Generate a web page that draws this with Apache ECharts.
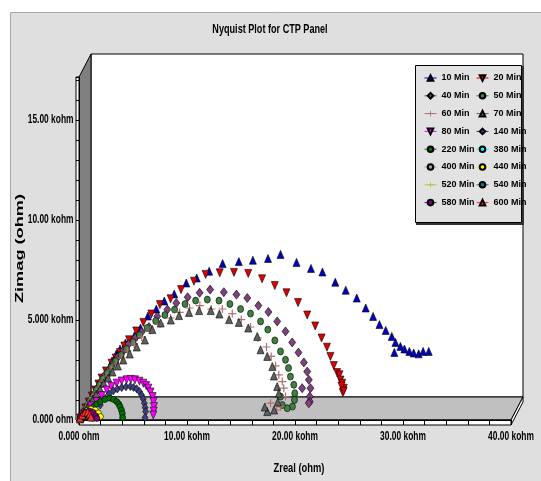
<!DOCTYPE html>
<html><head><meta charset="utf-8">
<script src="https://cdn.jsdelivr.net/npm/echarts@6/dist/echarts.min.js"></script>
<style>html,body{margin:0;padding:0;background:#fff;}#c{width:541px;height:481px;}</style>
</head><body><div id="c"></div>
<script>
// ---- texts & tick labels ----
const titleText = 'Nyquist Plot for CTP Panel';
const xAxisTitle = 'Zreal (ohm)';
const yAxisTitle = 'Zimag (ohm)';
const xTickValues = [0, 10, 20, 30, 40];
const xTickLabels = ['0.000 ohm', '10.00 kohm', '20.00 kohm', '30.00 kohm', '40.00 kohm'];
const yTickValues = [0, 5, 10, 15];
const yTickLabels = ['0.000 ohm', '5.000 kohm', '10.00 kohm', '15.00 kohm'];

// ---- data: [Zreal (kohm), Zimag (kohm)] ----
const min10 = [[0.15,0.1],[0.4,0.35],[0.7,0.65],[1.0,0.95],[1.3,1.25],[1.6,1.55],[1.9,1.85],[2.25,2.15],[2.63,2.45],[3.05,2.95],[3.45,3.3],[3.8,3.55],[4.3,3.85],[4.7,4.0],[5.12,4.2],[5.7,4.6],[6.38,5.2],[7.16,5.55],[7.9,5.95],[8.82,6.3],[9.93,6.85],[10.9,7.1],[12.05,7.44],[13.3,7.82],[14.8,7.92],[16.1,7.99],[17.5,8.08],[18.66,8.28],[20.14,7.88],[21.48,7.58],[22.54,7.4],[23.73,6.89],[24.7,6.49],[25.72,6.1],[26.55,5.6],[27.23,5.18],[27.82,4.77],[28.4,4.48],[28.96,4.18],[29.3,3.88],[29.76,3.68],[30.13,3.55],[30.59,3.43],[30.99,3.35],[31.45,3.31],[31.86,3.43],[32.38,3.43],[29.2,3.38]];
const min20 = [[0.1,0.1],[0.35,0.3],[0.6,0.6],[0.9,0.9],[1.2,1.2],[1.5,1.5],[1.8,1.8],[2.1,2.1],[2.5,2.45],[3.02,2.84],[3.4,3.1],[3.8,3.38],[4.2,3.7],[4.63,4.01],[5.3,4.45],[5.96,4.88],[6.7,5.3],[7.49,5.77],[8.48,6.06],[9.45,6.52],[10.64,6.94],[11.72,7.28],[13.03,7.36],[14.35,7.38],[15.67,7.33],[16.95,7.06],[18.13,6.72],[19.21,6.36],[20.28,5.87],[21.13,5.25],[21.87,4.7],[22.46,4.1],[22.96,3.64],[23.28,3.18],[23.59,2.72],[23.9,2.37],[24.12,2.26],[24.21,2.0],[24.37,1.84],[24.52,1.59],[24.43,1.37],[24.3,1.7],[24.5,1.45]];
const min40 = [[0.1,0.08],[0.3,0.28],[0.55,0.5],[0.8,0.75],[1.1,1.0],[1.4,1.3],[1.7,1.6],[2.0,1.9],[2.4,2.25],[2.8,2.55],[3.2,2.85],[3.6,3.15],[4.1,3.45],[4.6,3.8],[5.2,4.1],[5.8,4.4],[6.48,4.65],[7.25,5.18],[8.18,5.52],[9.01,5.85],[10.06,6.14],[11.17,6.36],[12.14,6.52],[13.41,6.39],[14.58,6.27],[15.58,6.1],[16.61,5.72],[17.54,5.4],[18.35,4.93],[19.12,4.43],[19.74,3.88],[20.32,3.37],[20.82,2.88],[21.13,2.42],[21.28,2.01],[21.43,1.59],[21.37,1.17],[21.37,0.92],[21.28,0.84],[20.66,1.59]];
const min50 = [[0.1,0.07],[0.3,0.25],[0.5,0.45],[0.75,0.7],[1.0,0.95],[1.3,1.2],[1.6,1.5],[1.9,1.75],[2.2,2.05],[2.6,2.35],[3.0,2.65],[3.4,2.95],[3.9,3.25],[4.4,3.55],[5.0,3.9],[5.6,4.25],[6.3,4.6],[7.1,4.95],[7.95,5.25],[8.85,5.52],[9.82,5.8],[10.8,5.97],[11.88,6.02],[12.96,5.97],[13.97,5.8],[14.96,5.55],[15.88,5.32],[16.81,4.93],[17.48,4.52],[18.13,3.98],[18.66,3.43],[19.12,3.01],[19.4,2.6],[19.58,2.17],[19.89,1.76],[19.98,1.34],[19.95,1.0],[19.76,0.67],[19.28,0.59],[18.82,0.75],[18.66,1.17]];
const min60 = [[0.1,0.06],[0.3,0.22],[0.5,0.42],[0.75,0.65],[1.0,0.88],[1.3,1.12],[1.6,1.4],[1.9,1.65],[2.25,1.95],[2.6,2.2],[3.0,2.5],[3.45,2.8],[3.95,3.1],[4.5,3.45],[5.1,3.8],[5.8,4.15],[6.6,4.5],[7.5,4.8],[8.48,5.1],[9.32,5.38],[10.24,5.6],[11.19,5.72],[12.25,5.55],[13.27,5.55],[14.19,5.32],[15.02,5.02],[15.88,4.65],[16.56,4.1],[17.36,3.65],[17.8,3.18],[18.2,2.71],[18.5,2.26],[18.82,1.92],[18.96,1.59],[19.12,1.17],[18.66,0.67],[17.73,0.84],[18.3,0.5]];
const min70 = [[0.1,0.05],[0.3,0.2],[0.5,0.4],[0.75,0.6],[1.0,0.82],[1.3,1.05],[1.6,1.3],[1.95,1.55],[2.3,1.85],[2.7,2.1],[3.1,2.4],[3.6,2.7],[4.1,3.0],[4.7,3.3],[5.35,3.65],[6.1,4.0],[6.79,4.52],[7.56,4.85],[8.5,5.0],[9.26,5.22],[10.19,5.38],[11.12,5.47],[12.2,5.47],[13.0,5.3],[13.9,5.02],[14.8,4.88],[15.67,4.6],[16.5,4.18],[16.81,3.51],[17.43,3.18],[17.9,2.67],[18.05,2.2],[18.35,1.67],[18.5,1.34],[18.4,0.9],[18.06,0.5],[17.43,0.42],[17.2,0.65]];
const min80 = [[0.3,0.15],[0.7,0.4],[1.1,0.7],[1.64,0.92],[2.1,1.22],[2.57,1.5],[3.0,1.68],[3.49,1.84],[3.95,1.95],[4.41,2.01],[4.8,2.03],[5.18,2.01],[5.6,1.94],[5.96,1.84],[6.22,1.72],[6.42,1.59],[6.62,1.4],[6.82,1.17],[6.9,0.92],[6.94,0.67],[6.92,0.45],[6.88,0.25]];
const min140 = [[0.3,0.12],[0.7,0.35],[1.2,0.55],[1.97,0.75],[2.43,1.09],[2.8,1.3],[3.18,1.46],[3.55,1.55],[3.95,1.62],[4.35,1.66],[4.75,1.67],[5.05,1.63],[5.34,1.56],[5.6,1.42],[5.8,1.25],[5.95,1.05],[6.05,0.84],[6.12,0.62],[6.17,0.42],[6.11,0.12]];
const min220 = [[0.3,0.1],[0.6,0.3],[1.0,0.5],[1.35,0.67],[1.65,0.8],[1.97,0.92],[2.4,1.03],[2.87,1.09],[3.2,1.03],[3.49,0.92],[3.68,0.8],[3.8,0.67],[3.93,0.5],[4.01,0.33],[4.04,0.12]];
const min380 = [[0.1,0.05],[0.25,0.18],[0.45,0.28],[0.7,0.33],[0.95,0.3],[1.15,0.2],[1.25,0.08]];
const min400 = [[0.1,0.08],[0.3,0.25],[0.55,0.4],[0.85,0.48],[1.15,0.45],[1.4,0.32],[1.55,0.15]];
const min440 = [[0.15,0.1],[0.4,0.3],[0.75,0.48],[1.1,0.55],[1.5,0.5],[1.8,0.35],[1.98,0.17]];
const min520 = [[0.1,0.06],[0.3,0.2],[0.55,0.32],[0.85,0.38],[1.1,0.33],[1.3,0.2],[1.4,0.08]];
const min540 = [[0.1,0.05],[0.25,0.15],[0.45,0.25],[0.65,0.28],[0.85,0.22],[1.0,0.1]];
const min580 = [[0.1,0.08],[0.3,0.22],[0.6,0.38],[0.95,0.45],[1.3,0.38],[1.55,0.2],[1.65,0.08]];
const min600 = [[0.1,0.1],[0.3,0.25],[0.55,0.38],[0.8,0.4],[1.0,0.3],[1.1,0.15]];

const leftNames  = ['10 Min','40 Min','60 Min','80 Min','220 Min','400 Min','520 Min','580 Min'];
const rightNames = ['20 Min','50 Min','70 Min','140 Min','380 Min','440 Min','540 Min','600 Min'];

// ---- styles ----
const PLUS = 'path://M3.4,0h1.2v3.4h3.4v1.2h-3.4v3.4h-1.2v-3.4h-3.4v-1.2h3.4z';
const styleTable = [
  {name:'10 Min', data:min10, color:'#0000c0', symbol:'triangle', size:[7,8], rot:0},
  {name:'20 Min', data:min20, color:'#e00000', symbol:'triangle', size:[7,8], rot:180},
  {name:'40 Min', data:min40, color:'#804080', symbol:'diamond', size:[7,9], rot:0},
  {name:'50 Min', data:min50, color:'#408040', symbol:'circle', size:[6,7], rot:0},
  {name:'60 Min', data:min60, color:'#b07070', symbol:PLUS, size:8, rot:0, plus:true},
  {name:'70 Min', data:min70, color:'#606060', symbol:'triangle', size:[7,8], rot:0},
  {name:'80 Min', data:min80, color:'#ff00ff', symbol:'triangle', size:[7,8], rot:180},
  {name:'140 Min', data:min140, color:'#404080', symbol:'diamond', size:[6,8], rot:0},
  {name:'220 Min', data:min220, color:'#007000', symbol:'circle', size:6, rot:0},
  {name:'380 Min', data:min380, color:'#00ffff', symbol:'circle', size:6, rot:0},
  {name:'400 Min', data:min400, color:'#a0a0a0', symbol:'circle', size:6, rot:0},
  {name:'440 Min', data:min440, color:'#ffff00', symbol:'circle', size:6, rot:0},
  {name:'520 Min', data:min520, color:'#c0c040', symbol:PLUS, size:8, rot:0, plus:true},
  {name:'540 Min', data:min540, color:'#008080', symbol:'circle', size:6, rot:0},
  {name:'580 Min', data:min580, color:'#800080', symbol:'circle', size:6, rot:0},
  {name:'600 Min', data:min600, color:'#ff3030', symbol:'triangle', size:[7,8], rot:0}
];

const FONT = '"Liberation Sans", Arial, sans-serif';

const series = styleTable.map(s => ({
  type: 'line',
  name: s.name,
  data: s.data,
  z: 10,
  symbol: s.symbol,
  symbolSize: s.size,
  symbolRotate: s.rot,
  showSymbol: true,
  showAllSymbol: true,
  animation: false,
  lineStyle: {width: 0, color: s.color},
  itemStyle: {color: s.color, borderColor: s.plus ? s.color : '#000', borderWidth: s.plus ? 0 : 0.6, opacity: 1},
  emphasis: {disabled: true}
}));

const chart = echarts.init(document.getElementById('c'), null, {renderer: 'canvas'});

const legendCommon = {
  orient: 'vertical',
  top: 67,
  itemWidth: 12,
  itemHeight: 7,
  itemGap: 5.8,
  selectedMode: false,
  z: 8,
  lineStyle: {opacity: 1, width: 1},
  textStyle: {fontFamily: FONT, fontWeight: 'bold', fontSize: 9, color: '#000', lineHeight: 12}
};

const YMAX = 17.15;

chart.setOption({
  animation: false,
  backgroundColor: '#ffffff',
  legend: [
    Object.assign({left: 419, data: leftNames}, legendCommon),
    Object.assign({left: 471, data: rightNames}, legendCommon)
  ],
  grid: {left: 79, right: 30, top: 77, bottom: 61, outerBoundsMode: 'none', containLabel: false},
  xAxis: {
    type: 'value', min: 0, max: 40, interval: 2, z: 5,
    axisLine: {show: true, lineStyle: {color: '#000', width: 1}},
    axisTick: {show: true, length: 5, inside: false, lineStyle: {color: '#000'}},
    axisLabel: {show: false},
    splitLine: {show: false}
  },
  yAxis: {
    type: 'value', min: 0, max: YMAX, interval: 1, z: 5,
    axisLine: {show: true, lineStyle: {color: '#000', width: 1}},
    axisTick: {show: true, length: 3, inside: false, lineStyle: {color: '#000'}},
    axisLabel: {show: false},
    splitLine: {show: false}
  },
  series: series
});

// ---- 3D-style frame decorations and condensed texts, positioned from the grid ----
const o = chart.convertToPixel({gridIndex: 0}, [0, 0]);
const xe = chart.convertToPixel({gridIndex: 0}, [40, 0]);
const yt = chart.convertToPixel({gridIndex: 0}, [0, YMAX]);
const DX = 12, DY = -23;
const x0 = o[0], y0 = o[1], x1 = xe[0], y1 = yt[1];
const SQ = 0.7; // horizontal condensing of the narrow font

const texts = [];
xTickValues.forEach((v, i) => {
  const p = chart.convertToPixel({gridIndex: 0}, [v, 0]);
  texts.push({type: 'text', z: 6, x: p[0], y: y0 + 17, scaleX: SQ,
    style: {text: xTickLabels[i], font: 'bold 12px ' + FONT, fill: '#000', textAlign: 'center', textVerticalAlign: 'middle'}});
});
yTickValues.forEach((v, i) => {
  const p = chart.convertToPixel({gridIndex: 0}, [0, v]);
  texts.push({type: 'text', z: 6, x: x0 - 5.5, y: p[1], scaleX: SQ,
    style: {text: yTickLabels[i], font: 'bold 12px ' + FONT, fill: '#000', textAlign: 'right', textVerticalAlign: 'middle'}});
});
texts.push({type: 'text', z: 6, x: 270, y: 29, scaleX: SQ,
  style: {text: titleText, font: 'bold 13px ' + FONT, fill: '#000', textAlign: 'center', textVerticalAlign: 'middle'}});
texts.push({type: 'text', z: 6, x: (x0 + x1) / 2 + 4, y: 468, scaleX: 0.72,
  style: {text: xAxisTitle, font: 'bold 13px ' + FONT, fill: '#000', textAlign: 'center', textVerticalAlign: 'middle'}});
texts.push({type: 'text', z: 6, x: 20, y: (y0 + y1) / 2, rotation: Math.PI / 2, scaleX: 1.3, scaleY: 0.8,
  style: {text: yAxisTitle, font: 'bold 14px ' + FONT, fill: '#000', textAlign: 'center', textVerticalAlign: 'middle'}});

chart.setOption({
  graphic: {elements: [
    {type: 'rect', z: 1, shape: {x: 10.5, y: 12.5, width: 540, height: 478}, style: {fill: '#dfdfdf', stroke: '#a8a8a8', lineWidth: 1}},
    {type: 'rect', z: 2, shape: {x: x0 + DX, y: y1 + DY, width: x1 - x0, height: y0 - y1}, style: {fill: '#ffffff', stroke: '#000', lineWidth: 1}},
    {type: 'polygon', z: 2, shape: {points: [[x0, y0], [x0, y1], [x0 + DX, y1 + DY], [x0 + DX, y0 + DY]]}, style: {fill: '#808080', stroke: '#000', lineWidth: 1}},
    {type: 'polygon', z: 2, shape: {points: [[x0, y0], [x1, y0], [x1 + DX, y0 + DY], [x0 + DX, y0 + DY]]}, style: {fill: '#c0c0c0', stroke: '#000', lineWidth: 1}},
    {type: 'polygon', z: 3, shape: {points: [[x1, y0], [x1 + DX, y0 + DY], [x1 + DX, y0 + DY + 5], [x1, y0 + 5]]}, style: {fill: '#ffffff', stroke: '#000', lineWidth: 1}},
    {type: 'rect', z: 3, shape: {x: x0, y: y0, width: x1 - x0, height: 5}, style: {fill: '#ffffff', stroke: '#000', lineWidth: 1}},
    {type: 'rect', z: 3, shape: {x: x0 - 3, y: y1, width: 3, height: y0 - y1}, style: {fill: '#ffffff', stroke: '#000', lineWidth: 1}},
    {type: 'rect', z: 3, shape: {x: 415.5, y: 65.5, width: 106, height: 157}, style: {fill: '#e2e2e2', stroke: '#000', lineWidth: 1}},
    {type: 'polyline', z: 3, shape: {points: [[523, 66], [523, 224], [416, 224]]}, style: {stroke: '#333', lineWidth: 2, fill: null}}
  ].concat(texts)}
});
</script>
</body></html>
